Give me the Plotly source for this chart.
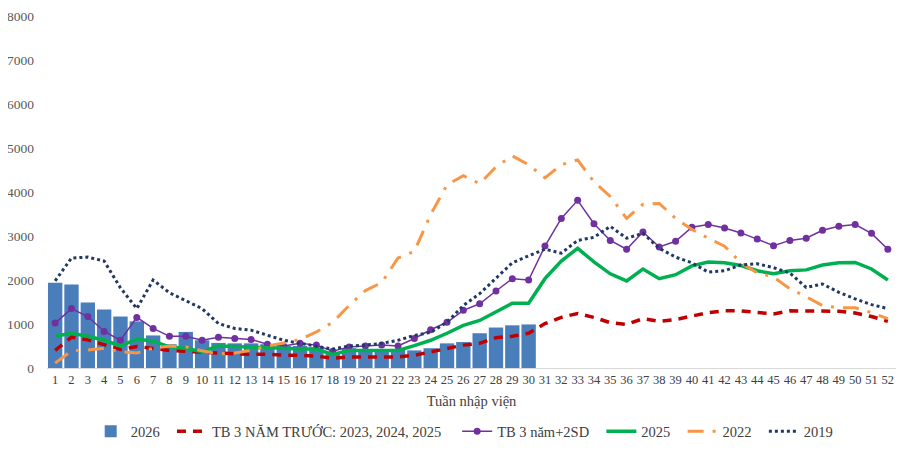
import plotly.graph_objects as go

weeks = [str(w) for w in range(1, 53)]

# 2026 bars (weeks 1-30)
cases_2026 = [1940, 1900, 1490, 1330, 1170, 1060, 740, 540, 820, 630,
              570, 560, 560, 540, 500, 500, 470, 340, 450, 410,
              410, 410, 400, 450, 560, 590, 790, 920, 970, 990]

avg_3y = [400, 700, 640, 520, 420, 490, 440, 400, 380, 360,
          330, 320, 310, 310, 290, 290, 270, 220, 250, 250,
          250, 250, 290, 370, 430, 520, 560, 690, 720, 790,
          1010, 1150, 1240, 1150, 1030, 990, 1120, 1060, 1100, 1190,
          1260, 1300, 1300, 1260, 1230, 1300, 1300, 1300, 1290, 1250,
          1170, 1060]

avg_2sd = [1020, 1350, 1170, 830, 630, 1150, 900, 720, 720, 630,
           700, 670, 650, 540, 500, 560, 520, 380, 480, 500,
           520, 500, 670, 870, 1040, 1310, 1460, 1750, 2030, 2000,
           2770, 3400, 3810, 3280, 2900, 2700, 3090, 2750, 2880, 3200,
           3260, 3180, 3070, 2930, 2780, 2900, 2950, 3130, 3220, 3260,
           3060, 2700]

cases_2025 = [720, 790, 720, 630, 500, 660, 610, 480, 450, 370,
              500, 490, 480, 470, 450, 430, 430, 310, 400, 400,
              400, 400, 510, 630, 790, 970, 1080, 1270, 1470, 1470,
              2030, 2430, 2720, 2410, 2140, 1980, 2250, 2030, 2120, 2320,
              2410, 2390, 2330, 2210, 2140, 2210, 2230, 2340, 2390, 2400,
              2250, 2000]

cases_2022 = [110, 390, 410, 450, 370, 340, 450, 500, 480, 390,
              320, 340, 400, 500, 570, 650, 820, 1040, 1420, 1760,
              1940, 2500, 2650, 3490, 4160, 4370, 4190, 4570, 4820, 4620,
              4320, 4620, 4730, 4230, 3900, 3400, 3720, 3740, 3400, 3150,
              2950, 2770, 2390, 2160, 2070, 1800, 1620, 1420, 1370, 1370,
              1260, 1120]

cases_2019 = [1980, 2500, 2520, 2430, 1820, 1350, 2000, 1710, 1530, 1350,
              1010, 900, 860, 740, 630, 560, 500, 430, 500, 520,
              560, 630, 740, 810, 1040, 1420, 1690, 2050, 2390, 2550,
              2700, 2610, 2900, 2970, 3220, 2950, 3060, 2720, 2520, 2390,
              2180, 2210, 2340, 2370, 2280, 2160, 1830, 1910, 1720, 1570,
              1440, 1350]

y_ticks = [0, 1000, 2000, 3000, 4000, 5000, 6000, 7000, 8000]

# a little trailing space so the legend entries spread like the original
pad = '\u00a0' * 2

fig = go.Figure()

fig.add_trace(go.Bar(
    x=weeks[:len(cases_2026)], y=cases_2026, name='2026' + pad,
    marker=dict(color='#4a7ebb', line=dict(width=0))
))
fig.add_trace(go.Scatter(
    x=weeks, y=avg_3y, mode='lines',
    name='TB 3 NĂM TRƯỚC: 2023, 2024, 2025' + pad + '\u00a0',
    line=dict(color='#c00000', width=3.5, dash='9px,7px')
))
fig.add_trace(go.Scatter(
    x=weeks, y=avg_2sd, mode='lines+markers', name='TB 3 năm+2SD' + pad,
    line=dict(color='#7030a0', width=1.5),
    marker=dict(color='#7030a0', size=7)
))
fig.add_trace(go.Scatter(
    x=weeks, y=cases_2025, mode='lines', name='2025' + pad,
    line=dict(color='#00b050', width=3.5)
))
fig.add_trace(go.Scatter(
    x=weeks, y=cases_2022, mode='lines', name='2022' + pad,
    line=dict(color='#f79646', width=3, dash='16px,9px,3px,9px')
))
fig.add_trace(go.Scatter(
    x=weeks, y=cases_2019, mode='lines', name='2019',
    line=dict(color='#1f3864', width=3, dash='dot')
))

fig.update_layout(
    width=911, height=455,
    margin=dict(l=39, r=23, t=8, b=95, autoexpand=False),
    paper_bgcolor='white', plot_bgcolor='white',
    font=dict(family='Liberation Serif', size=13, color='#595959'),
    bargap=0.12,
    showlegend=True,
    legend=dict(orientation='h', x=0.492, xanchor='center', y=-0.18, yanchor='middle',
                font=dict(size=14.5, color='#404040'),
                traceorder='normal'),
    xaxis=dict(
        type='category', range=[-0.5, 51.5], showgrid=False, showline=True,
        linecolor='#d9d9d9', linewidth=1, ticks='', tickangle=0,
        tickmode='array', tickvals=weeks,
        tickfont=dict(size=12.5, color='#404040'), automargin=False,
        title=dict(text='Tuần nhập viện', font=dict(size=14.5, color='#404040'), standoff=9)
    ),
    yaxis=dict(
        range=[0, 8000], tickvals=y_ticks, showgrid=False, zeroline=False,
        showline=False, ticks='', automargin=False, ticklabelstandoff=12,
        ticklabeloverflow='allow', tickfont=dict(size=13.5, color='#595959')
    )
)

fig.write_html("out.html")
